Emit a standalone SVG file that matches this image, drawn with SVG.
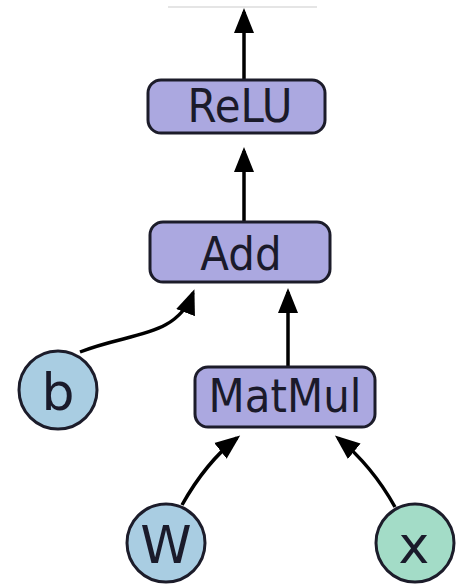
<svg xmlns="http://www.w3.org/2000/svg" width="460" height="584" viewBox="0 0 460 584">
  <style>
    .op rect { fill: #aba8e0; stroke: #1c1c2a; stroke-width: 3; }
    .var circle { stroke: #1c1c2a; stroke-width: 3; }
    .blue { fill: #a9cde2; }
    .green { fill: #a3dcc7; }
    text { font-family: "DejaVu Sans", "Noto Sans", sans-serif; fill: #1a1a2a; text-anchor: middle; }
    .op text { font-size: 42px; }
    .var text { font-size: 52px; }
    .edges path { fill: none; stroke: #000; stroke-width: 3.5; marker-end: url(#arrow); }
  </style>
  <defs>
    <marker id="arrow" markerUnits="userSpaceOnUse" markerWidth="28" markerHeight="22" refX="21" refY="11" orient="auto">
      <path d="M0,1 L25,11 L0,21 Z" fill="#000"/>
    </marker>
  </defs>

  <rect width="460" height="584" fill="#ffffff"/>
  <!-- thin rule at top edge -->
  <line x1="168" y1="7" x2="317" y2="7" stroke="#cccccc" stroke-width="1.2"/>

  <g class="edges">
    <path d="M244,80 L244,12"/>
    <path d="M244,222 L244,151"/>
    <path d="M288,367 L288,292"/>
    <path d="M80,352 C130,332 176,338 193,293"/>
    <path d="M182,505 C196,480 214,456 237,438"/>
    <path d="M395,507 C380,480 360,456 338,438"/>
  </g>

  <g id="relu" class="op">
    <rect x="148" y="80" width="177" height="53" rx="13"/>
    <text transform="translate(240,122) scale(1,1.12)">ReLU</text>
  </g>
  <g id="add" class="op">
    <rect x="150" y="222" width="180" height="60" rx="13"/>
    <text transform="translate(241,270) scale(1,1.12)">Add</text>
  </g>
  <g id="matmul" class="op">
    <rect x="195" y="367" width="180" height="60" rx="13"/>
    <text transform="translate(285,412) scale(1,1.12)">MatMul</text>
  </g>
  <g id="b" class="var">
    <circle class="blue" cx="58" cy="390" r="39"/>
    <text x="58" y="410">b</text>
  </g>
  <g id="W" class="var">
    <circle class="blue" cx="166" cy="543" r="39"/>
    <text x="166" y="563">W</text>
  </g>
  <g id="x" class="var">
    <circle class="green" cx="415" cy="543" r="39"/>
    <text x="414" y="563">x</text>
  </g>
</svg>
